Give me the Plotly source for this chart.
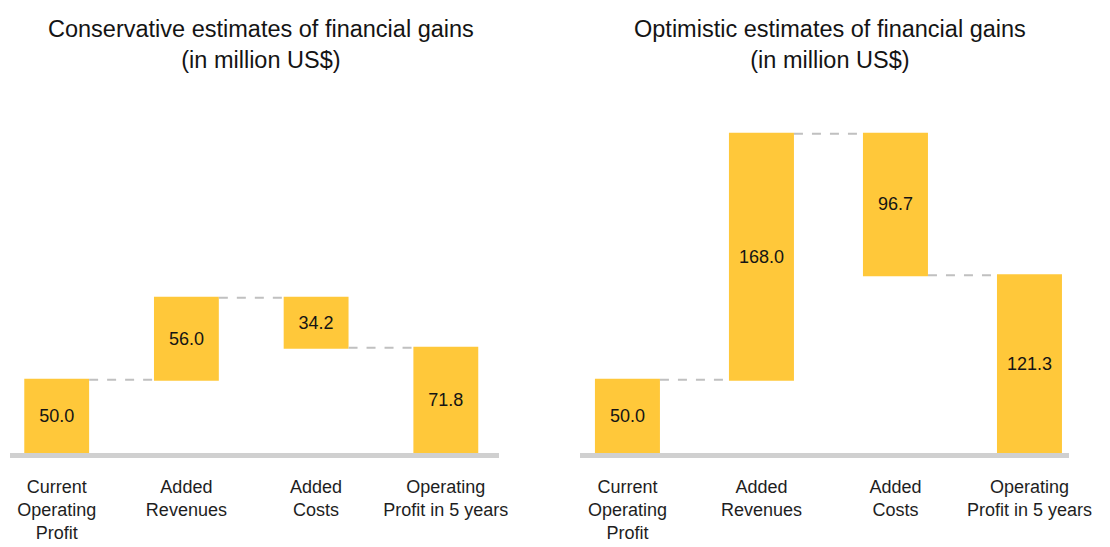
import plotly.graph_objects as go

categories = ["Current<br>Operating<br>Profit", "Added<br>Revenues", "Added<br>Costs", "Operating<br>Profit in 5 years"]
measures = ["absolute", "relative", "relative", "total"]
conservative = [50.0, 56.0, -34.2]
optimistic = [50.0, 168.0, -96.7]
titles = ["Conservative estimates of financial gains<br>(in million US$)",
          "Optimistic estimates of financial gains<br>(in million US$)"]

BAR = "#FFC83A"
FONT = "Liberation Sans, Arial, Helvetica, sans-serif"

def labels(vals):
    total = sum(vals)
    return [f"{abs(v):.1f}" for v in vals] + [f"{total:.1f}"]

fig = go.Figure()
for i, vals in enumerate([conservative, optimistic]):
    fig.add_trace(go.Waterfall(
        x=categories,
        y=vals + [0],
        measure=measures,
        text=labels(vals),
        textposition="inside",
        insidetextanchor="middle",
        textangle=0,
        constraintext="none",
        textfont=dict(size=18, color="#141414", family=FONT),
        increasing=dict(marker=dict(color=BAR)),
        decreasing=dict(marker=dict(color=BAR)),
        totals=dict(marker=dict(color=BAR)),
        connector=dict(line=dict(color="#C0C0C0", width=2, dash="dash"), mode="between"),
        width=[0.5] * 4 if i == 0 else [0.485] * 4,
        xaxis="x" if i == 0 else "x2",
        yaxis="y" if i == 0 else "y2",
        showlegend=False,
        hoverinfo="skip",
    ))

W, H = 1110, 547
ydom = [(H - 453) / H, (H - 100) / H]
ymax = 353 / 1.465

axis_common = dict(showgrid=False, zeroline=False, showline=True, linecolor="#D0D0D0",
                   linewidth=5, ticks="", ticklabelstandoff=13, automargin=False,
                   tickfont=dict(size=18, color="#1e1e1e", family=FONT),
                   fixedrange=True)
fig.update_layout(
    width=W, height=H,
    margin=dict(l=0, r=0, t=0, b=0, autoexpand=False),
    paper_bgcolor="white", plot_bgcolor="white",
    font=dict(family=FONT),
    xaxis=dict(domain=[10 / W, 499 / W], range=[-0.36, 3.41], **axis_common),
    xaxis2=dict(domain=[580 / W, 1069 / W], range=[-0.354, 3.295], anchor="y2", **axis_common),
    yaxis=dict(domain=ydom, range=[0, ymax], visible=False, fixedrange=True, automargin=False),
    yaxis2=dict(domain=ydom, range=[0, ymax], visible=False, anchor="x2", fixedrange=True, automargin=False),
    annotations=[
        dict(text=titles[0], x=261 / W, y=1 - 44 / H, xref="paper", yref="paper",
             xanchor="center", yanchor="middle", showarrow=False,
             font=dict(size=23.5, color="#141414", family=FONT)),
        dict(text=titles[1], x=830 / W, y=1 - 44 / H, xref="paper", yref="paper",
             xanchor="center", yanchor="middle", showarrow=False,
             font=dict(size=23.5, color="#141414", family=FONT)),
    ],
)

fig.write_html("out.html", post_script="document.body.style.margin='0';",
               config={"displayModeBar": False})
